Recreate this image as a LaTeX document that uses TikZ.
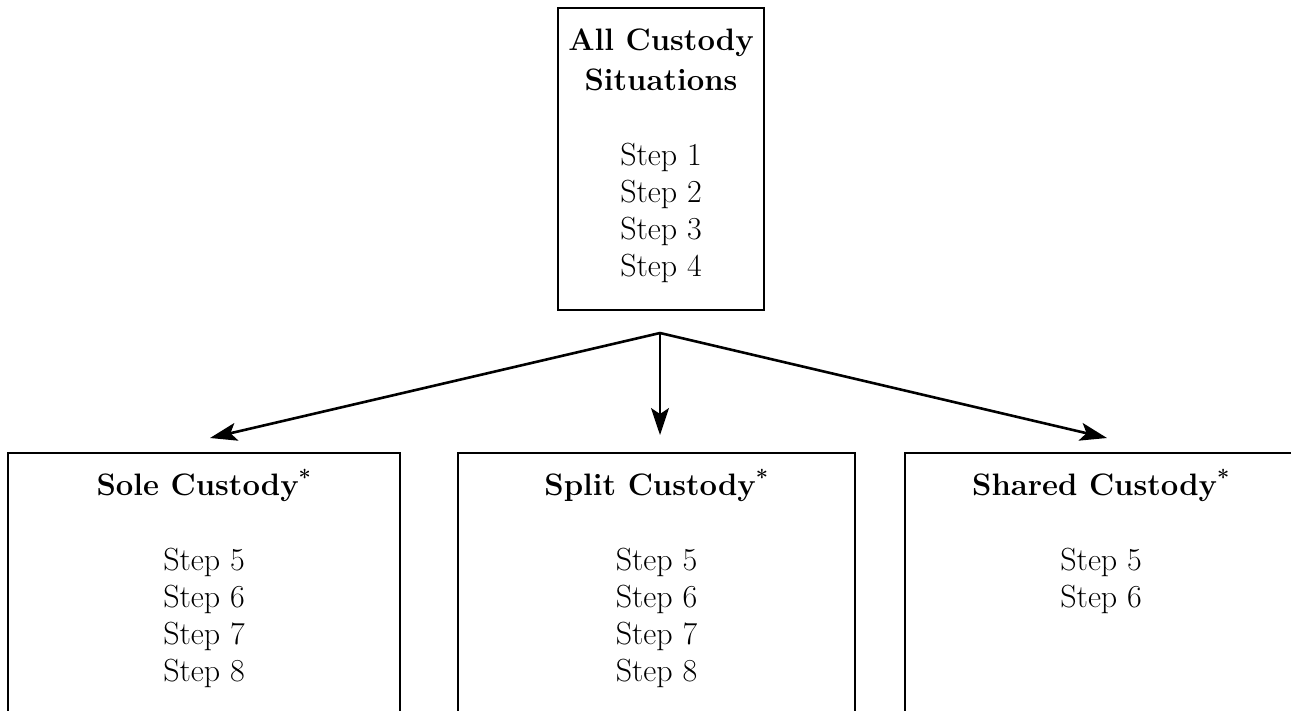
\documentclass[tikz,border=0pt]{standalone}
\usetikzlibrary{arrows.meta,positioning}
\begin{document}
\begin{tikzpicture}
        [
            x=1pt, y=-1pt,
            box/.style = {draw, line width=1.6pt, rectangle, inner sep=0pt, outer sep=0pt},
            heading/.style = {font=\fontsize{31}{40}\selectfont\bfseries, align=center, anchor=base, inner sep=0pt},
            steps/.style = {font=\fontsize{32}{37}\selectfont, align=center, anchor=base, inner sep=0pt},
            branch/.style = {line width=2.6pt, -{Stealth[length=27pt,width=18pt,inset=6pt]}},
        ]
        \useasboundingbox (0,0) rectangle (1291,710);
        % boxes
        \node [box, minimum width=206pt, minimum height=302pt] (all) at (661,159) {};
        \node [box, minimum width=392pt, minimum height=306pt] (sole) at (204,606) {};
        \node [box, minimum width=397pt, minimum height=306pt] (split) at (656.5,606) {};
        \node [box, minimum width=392pt, minimum height=306pt] (shared) at (1101,606) {};
        % texts (base = last line)
        \node [heading] (allT) at ([yshift=-82pt]all.north) {All Custody\\Situations};
        \node [steps] (allS) at ([yshift=-268pt]all.north) {Step 1\\Step 2\\Step 3\\Step 4};
        \node [heading] (soleT) at ([yshift=-42pt]sole.north) {Sole Custody\textsuperscript{*}};
        \node [steps] (soleS) at ([yshift=-228pt]sole.north) {Step 5\\Step 6\\Step 7\\Step 8};
        \node [heading] (splitT) at ([yshift=-42pt]split.north) {Split Custody\textsuperscript{*}};
        \node [steps] (splitS) at ([yshift=-228pt]split.north) {Step 5\\Step 6\\Step 7\\Step 8};
        \node [heading] (sharedT) at ([yshift=-42pt]shared.north) {Shared Custody\textsuperscript{*}};
        \node [steps] (sharedS) at ([yshift=-154pt]shared.north) {Step 5\\Step 6};
        % arrows
        \coordinate (fork) at ([xshift=-1pt,yshift=-23pt]all.south);
        \coordinate (soleTip) at ([xshift=6pt,yshift=15pt]sole.north);
        \coordinate (splitTip) at ([xshift=3.5pt,yshift=18pt]split.north);
        \coordinate (sharedTip) at ([xshift=6pt,yshift=15pt]shared.north);
        \draw [branch] (fork) -- (soleTip);
        \draw [branch, line width=2pt] (fork) -- (splitTip);
        \draw [branch] (fork) -- (sharedTip);
    \end{tikzpicture}
\end{document}
